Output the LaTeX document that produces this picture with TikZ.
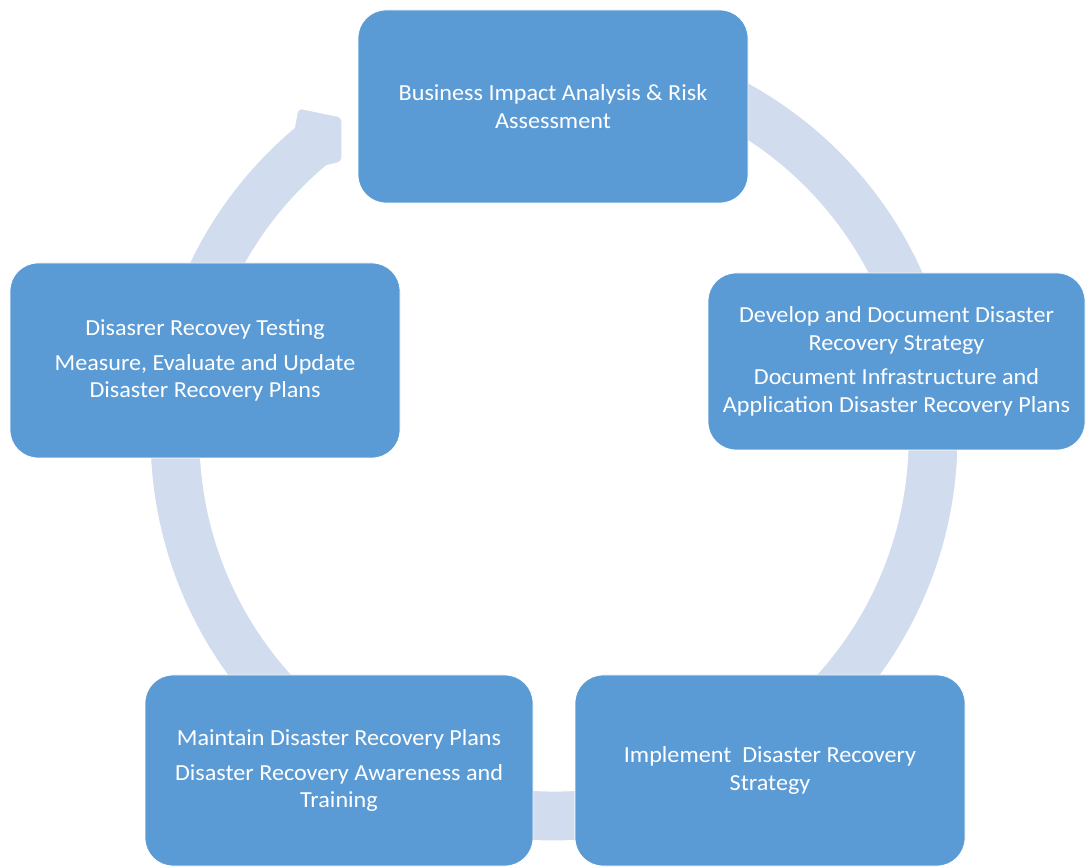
\documentclass[tikz,border=0pt]{standalone}
\usepackage{fontspec}
\setmainfont{Carlito}[FakeStretch=1.05]
\usepackage{tikz}
\usetikzlibrary{positioning, calc}

\definecolor{boxblue}{RGB}{91,155,213}
\definecolor{ringblue}{RGB}{209,221,238}

\begin{document}
\begin{tikzpicture}[
            x=1pt, y=1pt,
            phase/.style={draw=white, line width=0.8pt, fill=boxblue, rounded corners=28pt,
                          inner sep=0pt, align=center, text=white,
                          font=\fontsize{23}{27.5}\selectfont},
            ring/.style={draw=white, line width=1.2pt, fill=ringblue, line join=round}
        ]

        \useasboundingbox (0,0) rectangle (1091,867);
        \coordinate (ctr) at (554,430);

        % Ring
        \path[ring] (ctr) ++(100:404) arc[start angle=100, end angle=-230, radius=404]
            {[rounded corners=4pt] -- (298,759) -- (342,750) -- (342,705)} -- (326.5,701.2)
            arc[start angle=-230, end angle=100, radius=354] -- cycle;

        % Knoten
        \node[phase, minimum width=390pt, minimum height=193pt] (bia) at (553,760.5)
            {Business Impact Analysis \& Risk\\Assessment};
        \node[phase, minimum width=377pt, minimum height=177pt] (strat) at (896.5,505.5)
            {Develop and Document Disaster\\Recovery Strategy\\[7pt]
             Document Infrastructure and\\Application Disaster Recovery Plans};
        \node[phase, minimum width=390pt, minimum height=191pt] (impl) at (770,96.5)
            {Implement~ Disaster Recovery\\Strategy};
        \node[phase, minimum width=388pt, minimum height=191pt] (maint) at (339,96.5)
            {Maintain Disaster Recovery Plans\\[7pt]
             Disaster Recovery Awareness and\\Training};
        \node[phase, minimum width=390pt, minimum height=195pt] (test) at (205,506.5)
            {Disasrer Recovey Testing\\[7pt]
             Measure, Evaluate and Update\\Disaster Recovery Plans};

    \end{tikzpicture}
\end{document}
